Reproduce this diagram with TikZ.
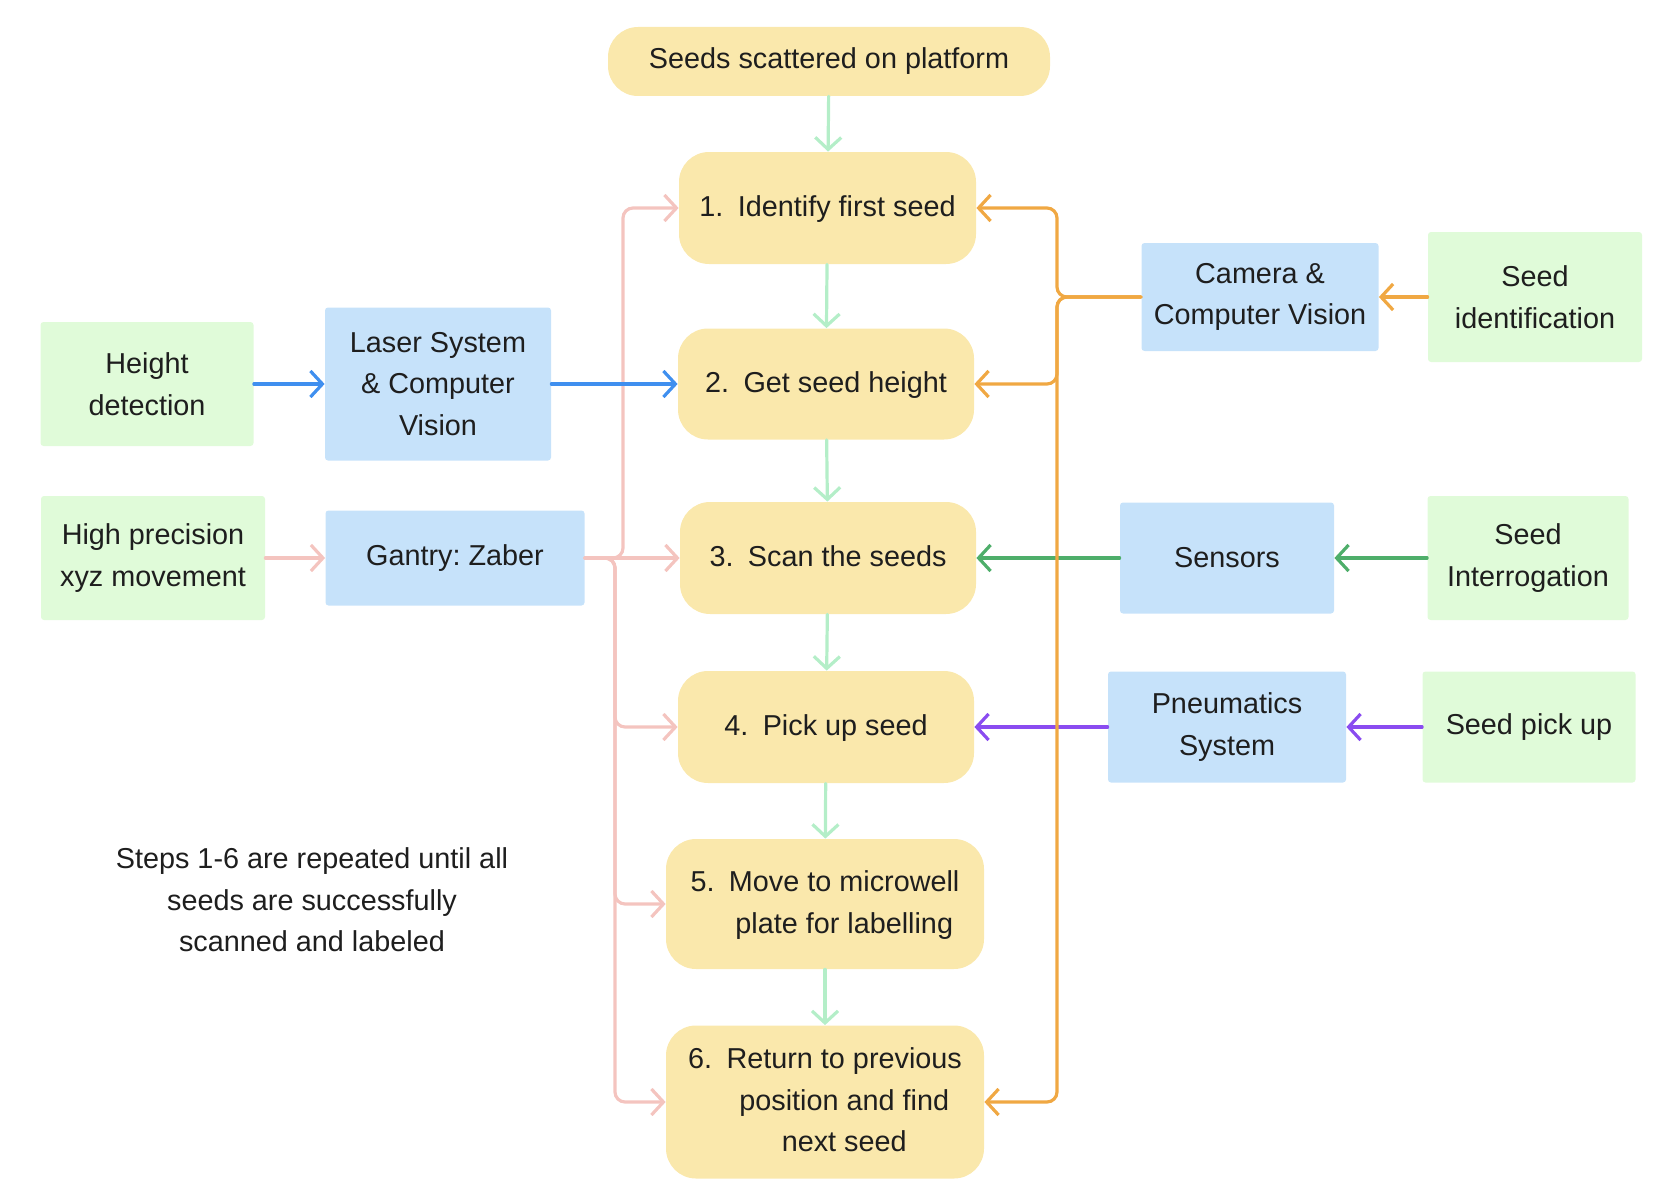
\documentclass[tikz,border=0pt]{standalone}
\usepackage{fontspec}
\setmainfont{Liberation Sans}
\usetikzlibrary{arrows.meta}
\frenchspacing
\definecolor{ink}{HTML}{1E1E1E}
\definecolor{stepcol}{HTML}{FAE8AC}
\definecolor{partcol}{HTML}{C6E2FA}
\definecolor{taskcol}{HTML}{E0FBD9}
\definecolor{mint}{HTML}{B4EEC8}
\definecolor{rose}{HTML}{F4C4BF}
\definecolor{amber}{HTML}{F0A843}
\definecolor{azure}{HTML}{3F8FEF}
\definecolor{leaf}{HTML}{4EAE6A}
\definecolor{violet}{HTML}{8A4CF0}
\newcommand{\stepnum}[2]{\begin{tabular}{@{}l@{\hspace{0.5em}}c@{}}#1&#2\end{tabular}}
\begin{document}
\begin{tikzpicture}[x=0.5pt, y=-0.5pt, font=\fontsize{14.4}{20.8}\selectfont, line cap=round, line join=round,
	>={Straight Barb[length=6pt,width=13pt]},
	sz/.style 2 args={minimum width=#1pt, minimum height=#2pt},
	stepbox/.style={fill=stepcol, rounded corners=15pt, inner sep=0pt, align=center, text=ink},
	partbox/.style={fill=partcol, rounded corners=1.5pt, inner sep=0pt, align=center, text=ink},
	taskbox/.style={fill=taskcol, rounded corners=1.5pt, inner sep=0pt, align=center, text=ink},
	wire/.style={->, line width=1.6pt, draw=#1}]
	\useasboundingbox (0,0) rectangle (1670,1204);
	\node[stepbox, sz={221}{34.5}] (top) at (829,61.5) {Seeds scattered on platform};
	\node[stepbox, sz={148.5}{56}] (s1) at (827.5,208) {\stepnum{1.}{Identify first seed}};
	\node[stepbox, sz={148}{55.5}] (s2) at (826,384) {\stepnum{2.}{Get seed height}};
	\node[stepbox, sz={148}{56}] (s3) at (828,558) {\stepnum{3.}{Scan the seeds}};
	\node[stepbox, sz={148}{56}] (s4) at (826,727) {\stepnum{4.}{Pick up seed}};
	\node[stepbox, sz={159}{65}] (s5) at (825,904) {\stepnum{5.}{Move to microwell\\&plate for labelling}};
	\node[stepbox, sz={159}{76.5}] (s6) at (825,1102) {\stepnum{6.}{Return to previous\\&position and find\\&next seed}};
	\node[taskbox, sz={106.5}{62}] (height) at (147,384) {Height\\detection};
	\node[partbox, sz={113}{76.5}] (laser) at (438,384) {Laser System\\\& Computer\\Vision};
	\node[taskbox, sz={112}{62}] (xyz) at (153,558) {High precision\\xyz movement};
	\node[partbox, sz={129.5}{47.5}] (gantry) at (455,558) {Gantry: Zaber};
	\node[partbox, sz={118.5}{54}] (camera) at (1260,297) {Camera \&\\Computer Vision};
	\node[taskbox, sz={107}{65}] (seedid) at (1535,297) {Seed\\identification};
	\node[partbox, sz={107}{55.5}] (sensors) at (1227,558) {Sensors};
	\node[taskbox, sz={100.5}{62}] (seedint) at (1528,558) {Seed\\Interrogation};
	\node[partbox, sz={119}{55.5}] (pneu) at (1227,727) {Pneumatics\\System};
	\node[taskbox, sz={106.5}{55.5}] (pickup) at (1529,727) {Seed pick up};
	\node[align=center, text=ink] (note) at (312,900) {Steps 1-6 are repeated until all\\seeds are successfully\\scanned and labeled};
	\coordinate (pup) at (623,558);
	\coordinate (pdn) at (615,558);
	\coordinate (spine) at (1057,297);
	\foreach \a/\b in {top/s1,s1/s2,s2/s3,s3/s4,s4/s5,s5/s6} \draw[wire=mint] (\a) -- (\b);
	\draw[wire=rose] (xyz) -- (gantry);
	\draw[wire=rose] (gantry) -- (s3);
	\draw[wire=rose, rounded corners=5pt] (gantry.east) -| (pup |- s1.west) -- (s1.west);
	\foreach \s in {s4,s5,s6} \draw[wire=rose, rounded corners=5pt] (gantry.east) -| (pdn |- \s.west) -- (\s.west);
	\draw[wire=azure] (height) -- (laser);
	\draw[wire=azure] (laser) -- (s2);
	\draw[wire=leaf] (seedint) -- (sensors);
	\draw[wire=leaf] (sensors) -- (s3);
	\draw[wire=violet] (pickup) -- (pneu);
	\draw[wire=violet] (pneu) -- (s4);
	\draw[wire=amber] (seedid) -- (camera);
	\foreach \s in {s1,s2,s6} \draw[wire=amber, rounded corners=5pt] (camera.west) -| (spine |- \s.east) -- (\s.east);
\end{tikzpicture}
\end{document}
